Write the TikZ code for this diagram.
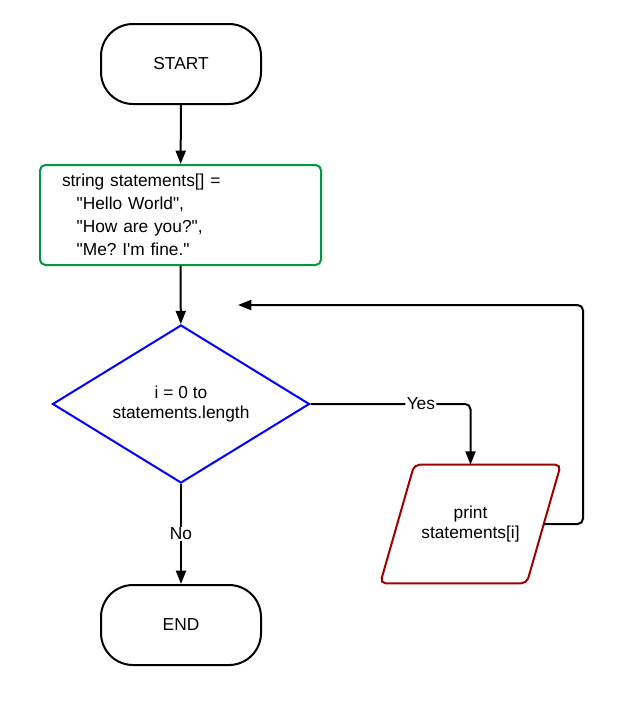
\documentclass[tikz,border=0pt]{standalone}
\usepackage{fontspec}
\setmainfont{Liberation Sans}
\usetikzlibrary{shapes.geometric, arrows.meta, positioning, calc}
\definecolor{boxgreen}{RGB}{0,150,70}
\definecolor{ioRed}{RGB}{160,0,0}
\frenchspacing

\begin{document}
\begin{tikzpicture}[x=0.75pt, y=-0.75pt, font=\fontsize{13}{15}\selectfont,
    terminal/.style={rectangle, rounded corners=24pt, draw=black, line width=1.5pt, minimum width=120pt, minimum height=60pt},
    process/.style={rectangle, rounded corners=4pt, draw=boxgreen, line width=1.5pt, minimum width=210.75pt, minimum height=75pt, inner xsep=16.5pt, text width=177.75pt, align=left, font=\fontsize{13}{17.25}\selectfont},
    decision/.style={diamond, aspect=1.63, inner sep=0pt, draw=blue, line width=1.5pt, minimum width=192.75pt, minimum height=118.5pt, align=center},
    output/.style={rectangle, minimum width=109.5pt, minimum height=88.5pt, align=center},
    outline/.style={draw=ioRed, line width=1.5pt, rounded corners=4pt},
    flow/.style={-{Triangle[length=10pt, width=7.5pt]}, line width=1.5pt},
    lbl/.style={fill=white, inner sep=1pt}
]
\useasboundingbox (0,0) rectangle (621,711);
\node[terminal] (start) at (181,64) {START};
\node[process] (init) at (180.5,215) {string statements[] =\\
  \hspace*{11pt}\textquotedbl Hello World\textquotedbl,\\
  \hspace*{11pt}\textquotedbl How are you?\textquotedbl,\\
  \hspace*{11pt}\textquotedbl Me? I\textquotesingle m fine.\textquotedbl};
\node[decision] (loop) at (181,404) {i = 0 to\\statements.length};
\node[output] (print) at (470.5,524) {print\\statements[i]};
\node[terminal] (end) at (181,625) {END};
\coordinate (back) at (238,305);
\coordinate (turn) at (583,305);

% parallelogram round the print node
\draw[outline] ([xshift=12.75pt]print.north west) -- ([xshift=12.75pt]print.north east)
  -- ([xshift=-12.75pt]print.south east) -- ([xshift=-12.75pt]print.south west) -- cycle;

\draw[flow] (start) -- (init);
\draw[flow] (init) -- (loop);
\draw[flow, rounded corners=4pt] (loop.east) -| node[lbl, pos=0.345] {Yes} (print.north);
\draw[flow, rounded corners=4pt] (print.east) -| (turn) -- (back);
\draw[flow] (loop) -- node[lbl] {No} (end);
\end{tikzpicture}
\end{document}
